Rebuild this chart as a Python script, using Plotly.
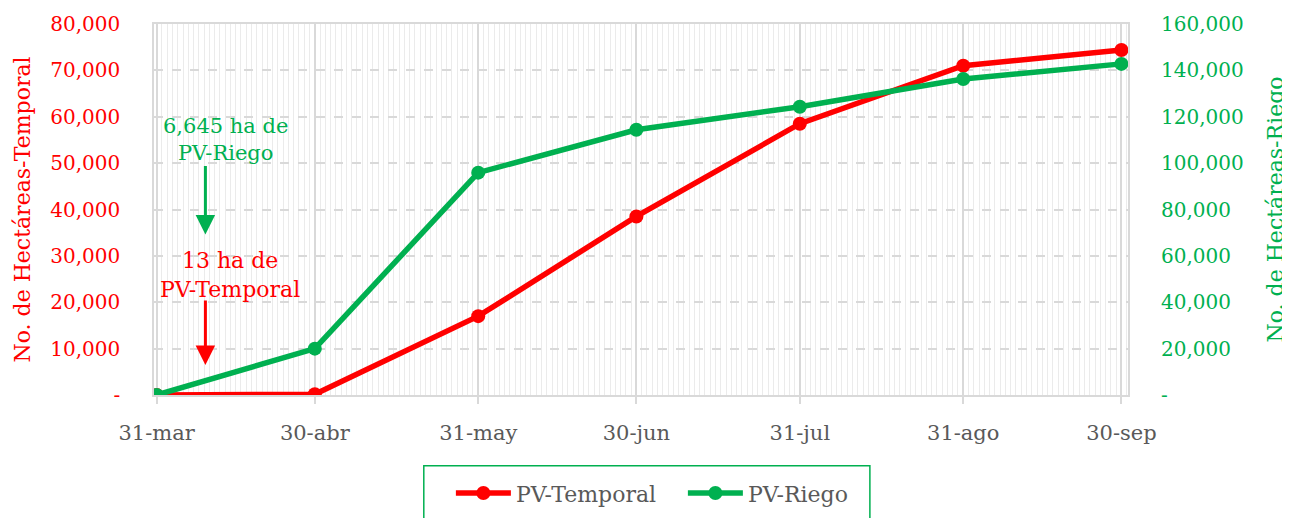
import plotly.graph_objects as go

dates = ["2023-03-31", "2023-04-30", "2023-05-31", "2023-06-30", "2023-07-31", "2023-08-31", "2023-09-30"]
date_labels = ["31-mar", "30-abr", "31-may", "30-jun", "31-jul", "31-ago", "30-sep"]
pv_temporal = [13, 150, 17000, 38500, 58500, 71000, 74400]
pv_riego = [0, 20000, 95900, 114400, 124300, 136300, 142800]

left_ticks = [0, 10000, 20000, 30000, 40000, 50000, 60000, 70000, 80000]
right_ticks = [0, 20000, 40000, 60000, 80000, 100000, 120000, 140000, 160000]

RED = "#FF0000"
GREEN = "#00B050"
GRAY = "#595959"
FONT = "DejaVu Serif"

def fmt(v):
    return "-" if v == 0 else f"{v:,}"

fig = go.Figure()
fig.add_trace(go.Scatter(x=dates, y=pv_temporal, name="PV-Temporal", mode="lines+markers",
                         line=dict(color=RED, width=5.5), marker=dict(size=14, color=RED), yaxis="y"))
fig.add_trace(go.Scatter(x=dates, y=pv_riego, name="PV-Riego", mode="lines+markers",
                         line=dict(color=GREEN, width=5.5), marker=dict(size=14, color=GREEN), yaxis="y2"))

fig.update_layout(
    width=1290, height=518,
    margin=dict(l=146, r=170, t=16, b=126),
    paper_bgcolor="white", plot_bgcolor="white",
    font=dict(family=FONT, size=20, color=GRAY),
    xaxis=dict(
        type="date", automargin=False,
        range=["2023-03-30 12:00", "2023-10-01 06:00"],
        tickmode="array", tickvals=dates, ticktext=date_labels,
        showgrid=True, gridcolor="#D9D9D9", gridwidth=1.5,
        ticks="outside", ticklen=7, tickcolor="#D9D9D9", tickwidth=1.5,
        ticklabelstandoff=11,
        tickfont=dict(color=GRAY, size=21, family=FONT),
        showline=True, linecolor="#D9D9D9", linewidth=1.5, mirror=True,
        minor=dict(dtick=86400000, tick0="2023-03-31", showgrid=True, gridcolor="#EBEBEB", gridwidth=1),
        zeroline=False,
    ),
    yaxis=dict(
        range=[0, 80000], automargin=False,
        tickmode="array", tickvals=left_ticks, ticktext=[fmt(v) for v in left_ticks],
        tickfont=dict(color=RED, size=20, family=FONT),
        ticklabelstandoff=28,
        showgrid=True, gridcolor="#D9D9D9", griddash="dash", gridwidth=1.5,
        showline=True, linecolor="#D9D9D9", linewidth=1.5, mirror=True,
        zeroline=False,
        title=dict(text="No. de Hectáreas-Temporal", font=dict(color=RED, size=22, family=FONT), standoff=14),
    ),
    yaxis2=dict(
        range=[0, 160000], overlaying="y", side="right", automargin=False,
        tickmode="array", tickvals=right_ticks, ticktext=[fmt(v) for v in right_ticks],
        tickfont=dict(color=GREEN, size=20, family=FONT),
        ticklabelstandoff=32,
        showgrid=False, zeroline=False,
        title=dict(text="No. de Hectáreas-Riego", font=dict(color=GREEN, size=22, family=FONT), standoff=24),
    ),
    legend=dict(
        orientation="h", x=0.543, xanchor="center", y=-0.208, yanchor="top",
        font=dict(color=GRAY, size=22, family=FONT),
        bgcolor="rgba(0,0,0,0)", itemwidth=55, entrywidth=162,
    ),
    showlegend=True,
)

# legend frame
fig.add_shape(type="rect", xref="paper", yref="paper",
              x0=0.277, x1=0.735, y0=-0.191, y1=-0.40,
              line=dict(color=GREEN, width=1.5), fillcolor="rgba(0,0,0,0)")

# annotations
fig.add_annotation(x="2023-04-13", y=55050, xref="x", yref="y",
                   text="6,645 ha de<br>PV-Riego", showarrow=False,
                   font=dict(color=GREEN, size=21, family=FONT), align="center")
fig.add_annotation(x="2023-04-14", y=25800, xref="x", yref="y",
                   text="13 ha de<br>PV-Temporal", showarrow=False,
                   font=dict(color=RED, size=22, family=FONT), align="center")
fig.add_annotation(x="2023-04-09 06:00", y=34600, xref="x", yref="y", text="",
                   showarrow=True, arrowhead=2, arrowsize=1.3, arrowwidth=3, arrowcolor=GREEN,
                   ax=0, ay=-70)
fig.add_annotation(x="2023-04-09 06:00", y=6450, xref="x", yref="y", text="",
                   showarrow=True, arrowhead=2, arrowsize=1.3, arrowwidth=3, arrowcolor=RED,
                   ax=0, ay=-66)

fig.write_html("out.html")
